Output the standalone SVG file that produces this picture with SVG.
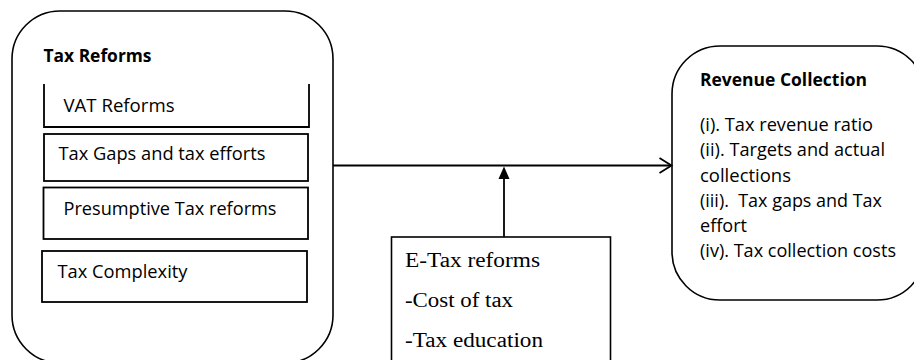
<svg xmlns="http://www.w3.org/2000/svg" width="914" height="360" viewBox="0 0 914 360">
<style>
.box{fill:#fff;stroke:#000;stroke-width:1.6}
.sub{fill:none;stroke:#000;stroke-width:1.8}
.t{font-family:"Open Sans","Liberation Sans",sans-serif;font-size:17.5px;fill:#000}
.b{font-weight:bold}
.s{font-family:"Liberation Serif","Times New Roman",serif;font-size:20px;fill:#000}
.c{fill:none;stroke:#000;stroke-width:1.8}
</style>
<rect width="914" height="360" fill="#fff"/>
<g id="tax-reforms">
<rect class="box" x="12" y="11" width="321" height="352" rx="48" ry="48"/>
<text class="t b" x="43.5" y="62" textLength="108" lengthAdjust="spacingAndGlyphs">Tax Reforms</text>
</g>
<g id="vat-reforms">
<polyline class="sub" points="44,84 44,127 309,127 309,84"/>
<text class="t" x="63.5" y="112" textLength="111" lengthAdjust="spacingAndGlyphs">VAT Reforms</text>
</g>
<g id="tax-gaps">
<rect class="sub" x="44" y="134" width="264" height="47"/>
<text class="t" x="58.5" y="160" textLength="207" lengthAdjust="spacingAndGlyphs">Tax Gaps and tax efforts</text>
</g>
<g id="presumptive">
<rect class="sub" x="43.5" y="187.5" width="264.5" height="51.5"/>
<text class="t" x="63.5" y="215" textLength="213" lengthAdjust="spacingAndGlyphs">Presumptive Tax reforms</text>
</g>
<g id="tax-complexity">
<rect class="sub" x="42" y="251" width="265" height="51"/>
<text class="t" x="57.5" y="278" textLength="130" lengthAdjust="spacingAndGlyphs">Tax Complexity</text>
</g>
<g id="revenue-collection">
<rect class="box" x="672" y="46" width="253" height="254" rx="48" ry="48"/>
<text class="t b" x="700" y="86" textLength="167" lengthAdjust="spacingAndGlyphs">Revenue Collection</text>
<text class="t" x="700" y="131" textLength="173" lengthAdjust="spacingAndGlyphs">(i). Tax revenue ratio</text>
<text class="t" x="700" y="156" textLength="185" lengthAdjust="spacingAndGlyphs">(ii). Targets and actual</text>
<text class="t" x="700" y="182" textLength="91" lengthAdjust="spacingAndGlyphs">collections</text>
<text class="t" x="700" y="207" textLength="182" lengthAdjust="spacingAndGlyphs" xml:space="preserve">(iii).  Tax gaps and Tax</text>
<text class="t" x="700" y="232" textLength="47" lengthAdjust="spacingAndGlyphs">effort</text>
<text class="t" x="700" y="257" textLength="196" lengthAdjust="spacingAndGlyphs">(iv). Tax collection costs</text>
</g>
<g id="e-tax">
<rect class="box" x="391.5" y="237" width="219" height="130"/>
<text class="s" x="405" y="267" textLength="135" lengthAdjust="spacingAndGlyphs">E-Tax reforms</text>
<text class="s" x="405" y="307" textLength="108" lengthAdjust="spacingAndGlyphs">-Cost of tax</text>
<text class="s" x="405" y="347" textLength="138" lengthAdjust="spacingAndGlyphs">-Tax education</text>
</g>
<g id="connectors">
<line class="c" x1="333" y1="165.5" x2="671" y2="165.5"/>
<polyline class="c" points="659.5,158 671.5,165.5 659.5,173"/>
<line class="c" x1="504" y1="237" x2="504" y2="177"/>
<polygon points="504,166.5 498.5,179 509.5,179" fill="#000"/>
</g>
</svg>
